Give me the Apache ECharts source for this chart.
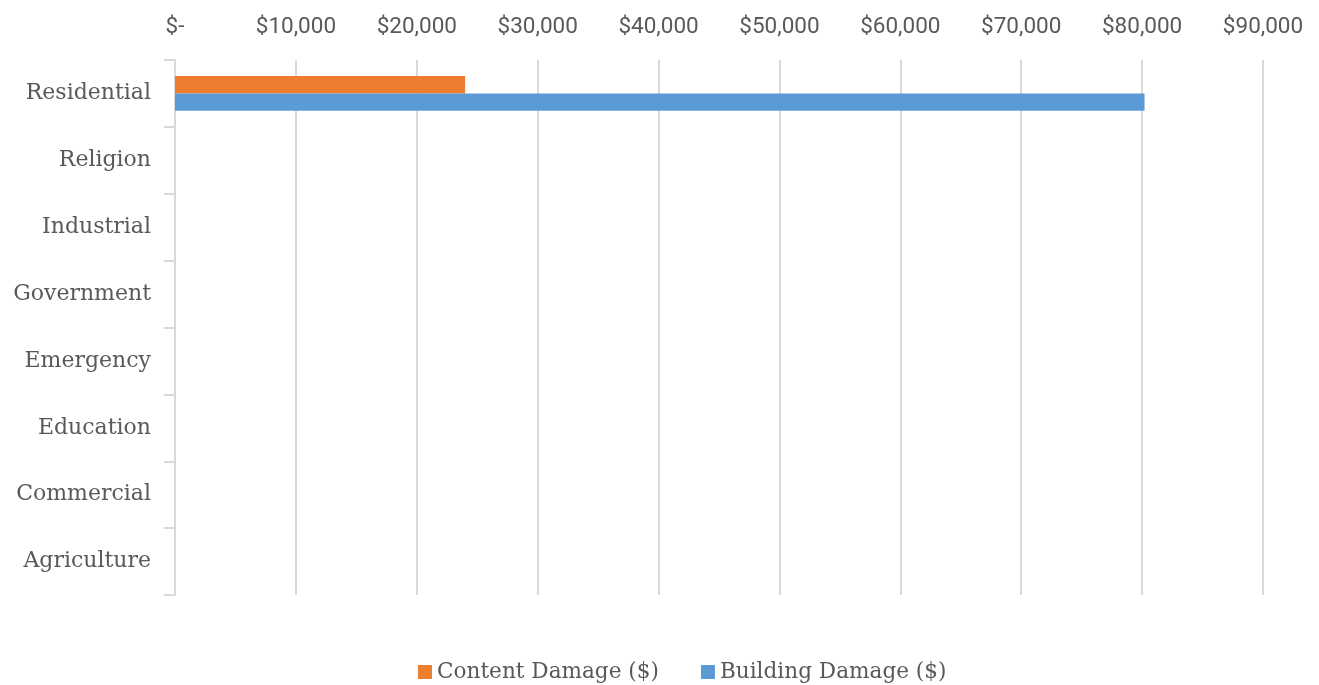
<!DOCTYPE html>
<html>
<head>
<meta charset="utf-8">
<script src="https://cdn.jsdelivr.net/npm/echarts@6/dist/echarts.min.js"></script>
<style>
  html, body { margin: 0; padding: 0; background: #ffffff; }
  #chart { width: 1319px; height: 685px; }
</style>
</head>
<body>
<div id="chart"></div>
<script>
// Occupancy categories, top to bottom
const categories = ['Residential', 'Religion', 'Industrial', 'Government', 'Emergency', 'Education', 'Commercial', 'Agriculture'];
// Damage estimates in dollars
const contentDamage = [24000, 0, 0, 0, 0, 0, 0, 0];
const buildingDamage = [80200, 0, 0, 0, 0, 0, 0, 0];
const seriesNames = ['Content Damage ($)', 'Building Damage ($)'];

const slabFont = '"Roboto Slab", "DejaVu Serif", serif';
const textColor = '#595959';

function money(v) {
  if (v === 0) return '$-';
  return '$' + v.toLocaleString('en-US');
}

const chart = echarts.init(document.getElementById('chart'), null, { renderer: 'canvas' });
chart.setOption({
  animation: false,
  backgroundColor: '#ffffff',
  grid: { left: 175, right: 56, top: 60, bottom: 90, containLabel: false },
  legend: {
    top: 656,
    left: 413,
    itemWidth: 14,
    itemHeight: 14,
    itemGap: 42,
    icon: 'rect',
    textStyle: { fontFamily: slabFont, fontSize: 21.6, color: textColor },
    data: seriesNames
  },
  xAxis: {
    type: 'value',
    position: 'top',
    min: 0,
    max: 90000,
    interval: 10000,
    axisLine: { show: false },
    axisTick: { show: false },
    splitLine: { show: true, lineStyle: { color: '#d9d9d9', width: 2 } },
    axisLabel: {
      formatter: money,
      fontFamily: 'Roboto, sans-serif',
      fontSize: 22.5,
      color: textColor,
      margin: 21
    }
  },
  yAxis: {
    type: 'category',
    inverse: true,
    data: categories,
    axisLine: { show: true, lineStyle: { color: '#d9d9d9', width: 2 } },
    axisTick: { show: true, inside: false, length: 11, lineStyle: { color: '#d9d9d9', width: 2 } },
    splitLine: { show: false },
    axisLabel: {
      fontFamily: slabFont,
      fontSize: 22,
      color: textColor,
      margin: 24
    }
  },
  series: [
    {
      name: seriesNames[0],
      type: 'bar',
      data: contentDamage,
      itemStyle: { color: '#ed7d31' },
      barGap: '0%',
      barCategoryGap: '48%'
    },
    {
      name: seriesNames[1],
      type: 'bar',
      data: buildingDamage,
      itemStyle: { color: '#5b9bd5' },
      barGap: '0%',
      barCategoryGap: '48%'
    }
  ]
});
</script>
</body>
</html>
